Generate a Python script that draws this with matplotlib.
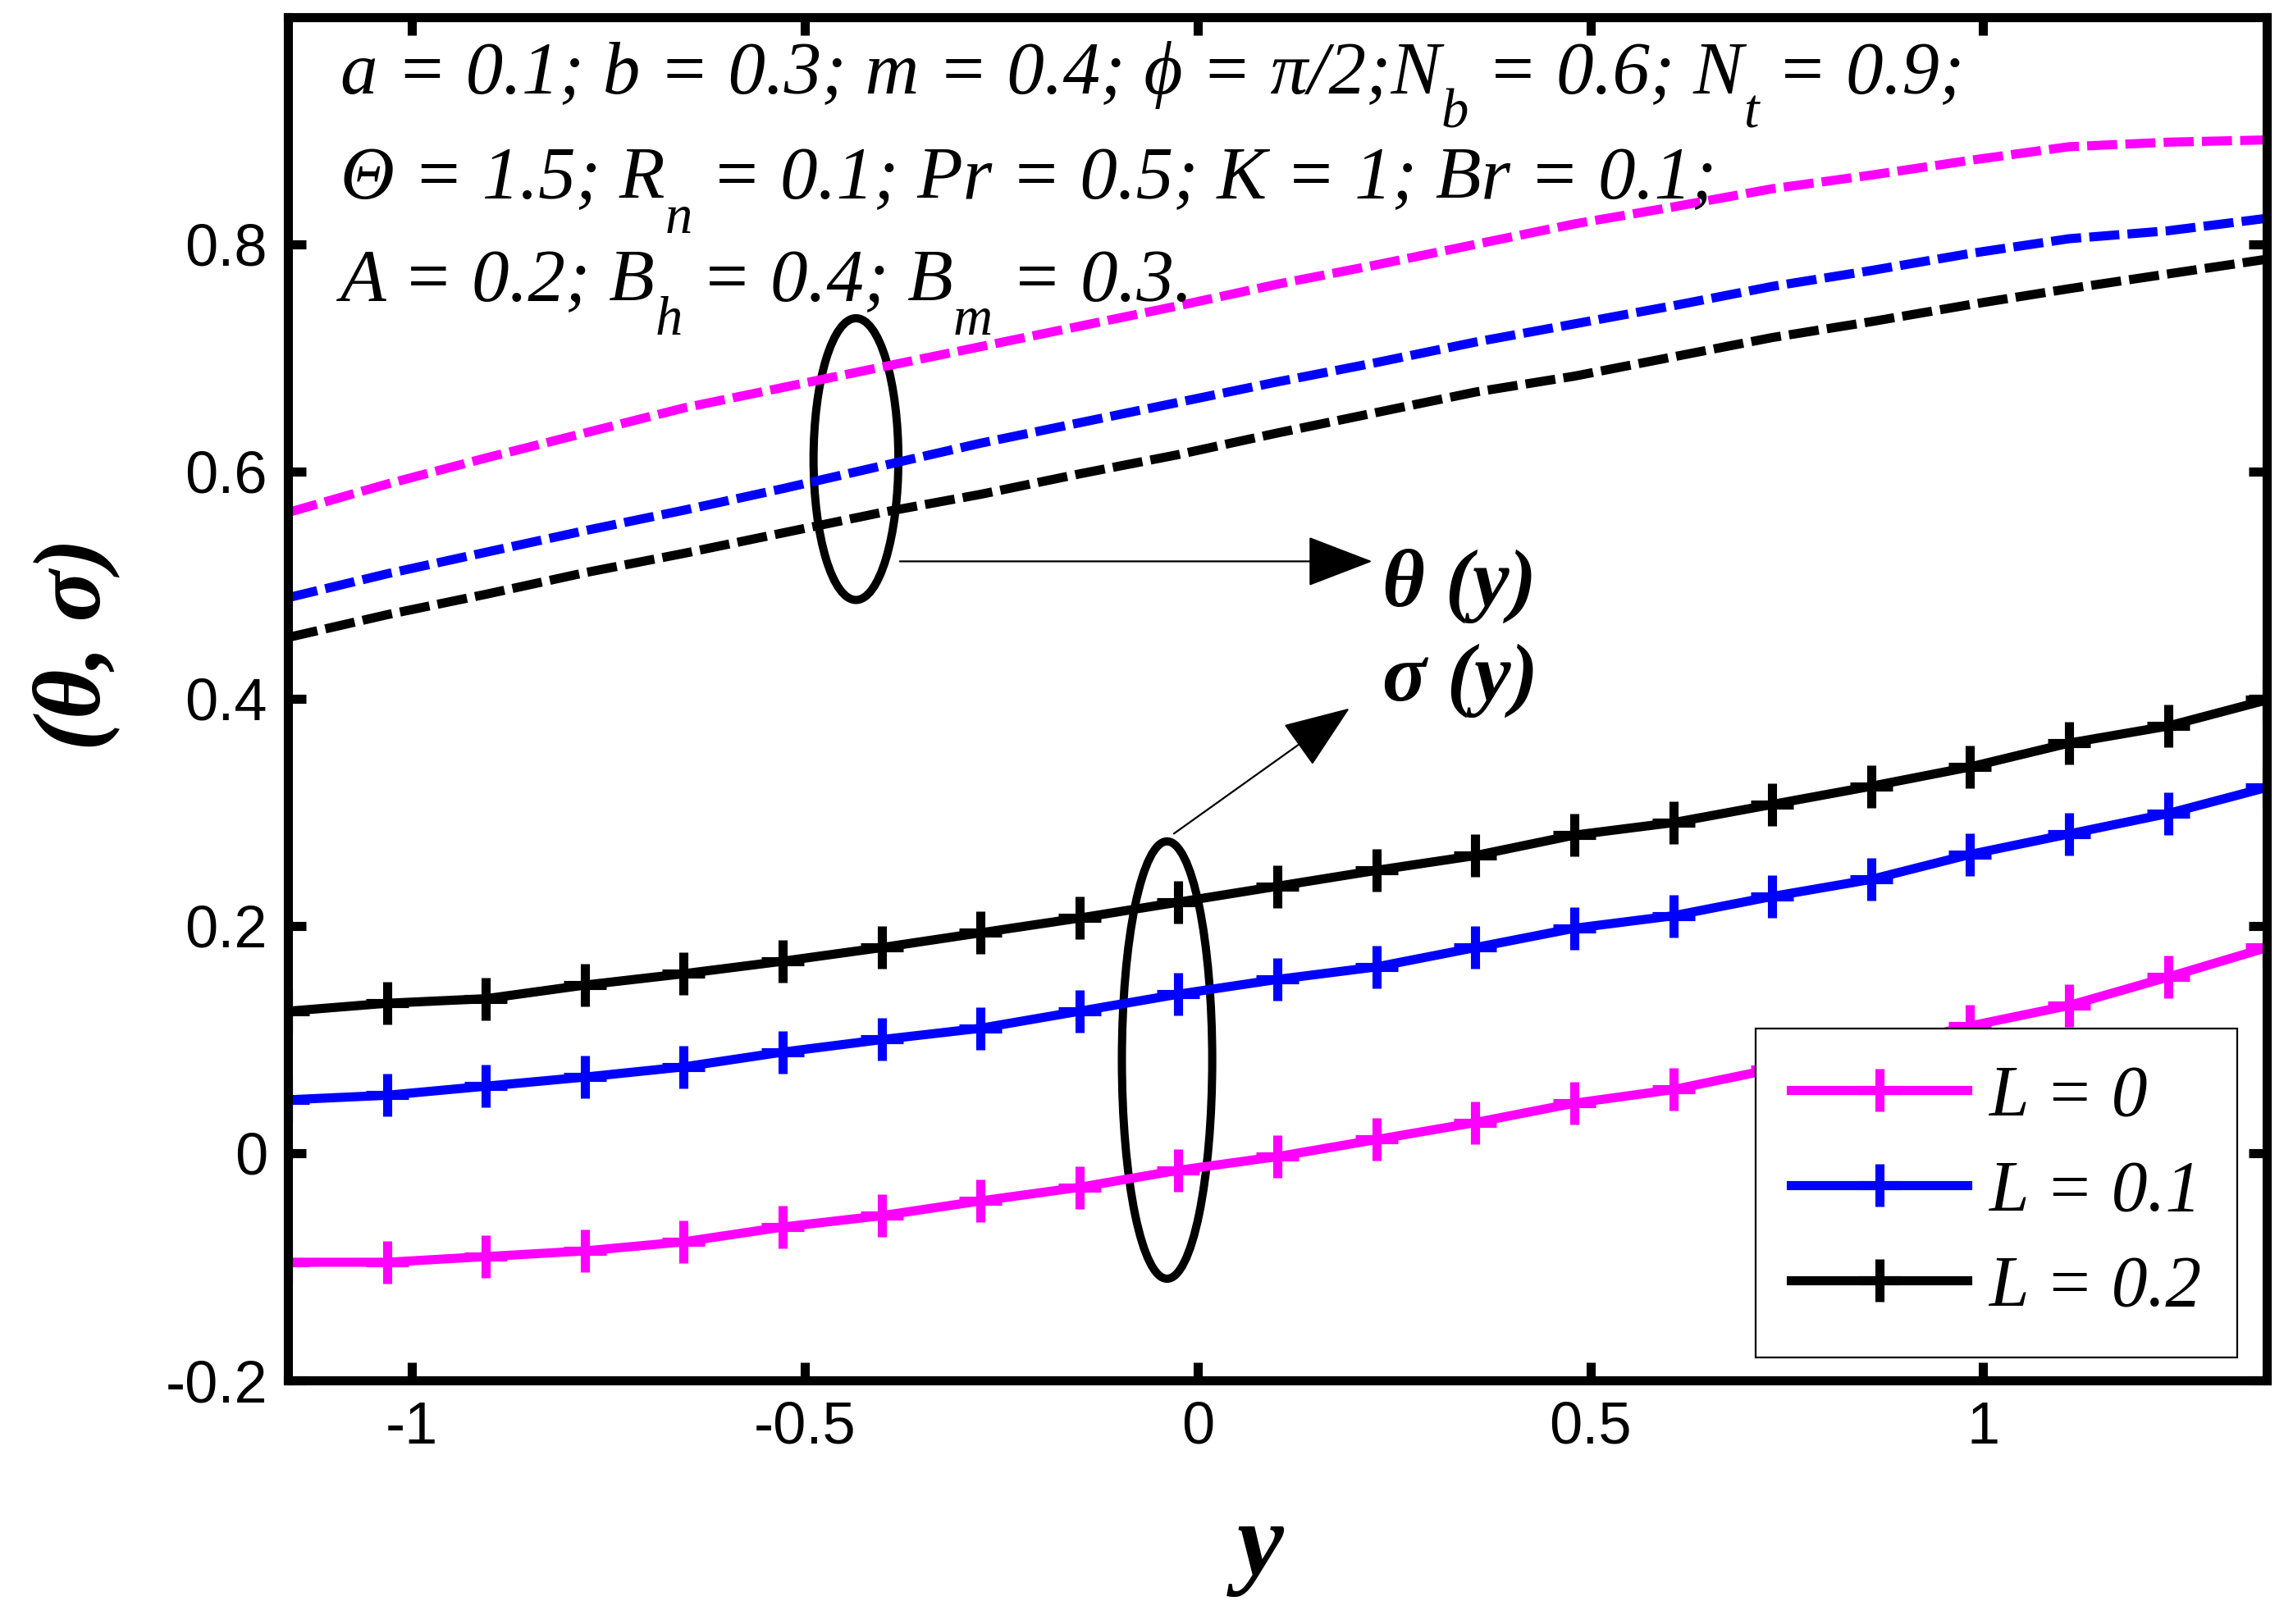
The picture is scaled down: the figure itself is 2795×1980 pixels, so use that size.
import numpy as np
import matplotlib
matplotlib.use("Agg")
import matplotlib.pyplot as plt
from matplotlib.patches import Ellipse

plt.rcParams["axes.unicode_minus"] = False

# y grid of the computed profiles (21 points across the channel)
y = np.linspace(-1.158, 1.361, 21)

# temperature theta(y), dashed
theta_L0 = [0.564, 0.589, 0.612, 0.634, 0.656, 0.674, 0.692, 0.710, 0.728, 0.746, 0.765,
            0.782, 0.800, 0.818, 0.833, 0.849, 0.861, 0.874, 0.886, 0.890, 0.892]
theta_L01 = [0.489, 0.510, 0.529, 0.548, 0.566, 0.585, 0.605, 0.625, 0.643, 0.661, 0.679,
             0.696, 0.714, 0.730, 0.746, 0.763, 0.777, 0.792, 0.805, 0.812, 0.823]
theta_L02 = [0.454, 0.474, 0.492, 0.511, 0.528, 0.546, 0.564, 0.580, 0.598, 0.615, 0.634,
             0.652, 0.670, 0.684, 0.701, 0.718, 0.732, 0.747, 0.761, 0.774, 0.787]

# concentration sigma(y), solid with + markers
sigma_L0 = [-0.096, -0.096, -0.091, -0.086, -0.078, -0.065, -0.055, -0.042, -0.030, -0.015, -0.003,
            0.012, 0.027, 0.044, 0.056, 0.074, 0.091, 0.112, 0.130, 0.155, 0.181]
sigma_L01 = [0.047, 0.051, 0.059, 0.067, 0.076, 0.089, 0.100, 0.110, 0.125, 0.140, 0.153,
             0.164, 0.181, 0.198, 0.209, 0.226, 0.241, 0.263, 0.281, 0.299, 0.322]
sigma_L02 = [0.125, 0.132, 0.136, 0.148, 0.158, 0.169, 0.181, 0.194, 0.207, 0.221, 0.235,
             0.249, 0.262, 0.280, 0.291, 0.307, 0.323, 0.340, 0.361, 0.376, 0.399]

labels = ["L = 0", "L = 0.1", "L = 0.2"]
colors = ["#ff00ff", "#0000ff", "#000000"]

xticks = [-1, -0.5, 0, 0.5, 1]
yticks = [-0.2, 0, 0.2, 0.4, 0.6, 0.8]

# parameter lines: (text, is_subscript)
param_lines = [
    [("a = 0.1; b = 0.3; m = 0.4; \u03d5 = \u03c0/2;N", False), ("b", True),
     (" = 0.6; N", False), ("t", True), (" = 0.9;", False)],
    [("\u0398 = 1.5; R", False), ("n", True), (" = 0.1; Pr = 0.5; K = 1; Br = 0.1;", False)],
    [("A = 0.2; B", False), ("h", True), (" = 0.4; B", False), ("m", True), (" = 0.3.", False)],
]
serif = ["Liberation Serif", "DejaVu Serif"]

fig = plt.figure(figsize=(13.975, 9.9), dpi=200)
ax = fig.add_axes([0.1256, 0.150, 0.863, 0.8394])

for th, c in zip([theta_L0, theta_L01, theta_L02], colors):
    ax.plot(y, th, color=c, lw=4, ls=(0, (3.3, 0.9)))

for sg, c, lab in zip([sigma_L0, sigma_L01, sigma_L02], colors, labels):
    ax.plot(y, sg, color=c, lw=4, marker="+", ms=19, mew=4, label=lab)

ax.set_xlim(-1.158, 1.361)
ax.set_ylim(-0.2, 1.0)
ax.set_xticks(xticks)
ax.set_xticklabels(["%g" % v for v in xticks])
ax.set_yticks(yticks)
ax.set_yticklabels(["%g" % v for v in yticks])
ax.tick_params(direction="in", length=8, width=4, top=True, right=True, pad=9,
               labelsize=26)
for lab in ax.get_xticklabels() + ax.get_yticklabels():
    lab.set_family("Liberation Sans")
for sp in ax.spines.values():
    sp.set_linewidth(4)

# parameter text, built piece by piece so subscripts sit low like the original
baselines = [0.944, 0.867, 0.792]
for pieces, yb in zip(param_lines, baselines):
    prev = None
    for s, sub in pieces:
        kw = dict(family=serif, style="italic", fontsize=24 if sub else 32.8,
                  va="baseline", ha="left")
        if prev is None:
            t = ax.text(0.0266, yb, s, transform=ax.transAxes, **kw)
        else:
            t = ax.annotate(s, xy=(1, yb), xycoords=(prev, "axes fraction"),
                            xytext=(0, -15 if sub else 0), textcoords="offset points", **kw)
        prev = t

# ellipses and arrows
ax.add_patch(Ellipse((-0.435, 0.611), 0.108, 0.248, fill=False, lw=3.6, ec="black"))
ax.add_patch(Ellipse((-0.039, 0.082), 0.115, 0.385, fill=False, lw=3.6, ec="black"))
astyle = "-|>,head_length=1.3,head_width=0.5"
ax.annotate("", xy=(0.228, 0.521), xytext=(-0.385, 0.521),
            arrowprops=dict(arrowstyle=astyle, mutation_scale=20, lw=0.8, color="black"))
ax.annotate("", xy=(0.198, 0.394), xytext=(-0.035, 0.279),
            arrowprops=dict(arrowstyle=astyle, mutation_scale=20, lw=0.8, color="black"))
ax.text(0.235, 0.499, "\u03b8 (y)", family=serif, style="italic",
        weight="bold", fontsize=36, va="center", ha="left")
ax.text(0.235, 0.416, "\u03c3 (y)", family=serif, style="italic",
        weight="bold", fontsize=36, va="center", ha="left")

# axis labels
ax.text(-0.107, 0.54, "(\u03b8, \u03c3)", transform=ax.transAxes, rotation=90,
        family=serif, style="italic", weight="bold", fontsize=42,
        ha="center", va="center")
ax.text(0.4915, -0.124, "y", transform=ax.transAxes, family=serif,
        style="italic", weight="bold", fontsize=46, ha="center", va="center")

leg = ax.legend(loc="lower right", bbox_to_anchor=(0.985, 0.017), borderaxespad=0,
                numpoints=1, handlelength=2.45, fancybox=False, framealpha=1,
                edgecolor="black", borderpad=0.5, labelspacing=0.4, handletextpad=0.3,
                prop=dict(family="Liberation Serif", style="italic", size=31.5))
leg.get_frame().set_linewidth(0.8)

fig.savefig("out.png", dpi=200)
